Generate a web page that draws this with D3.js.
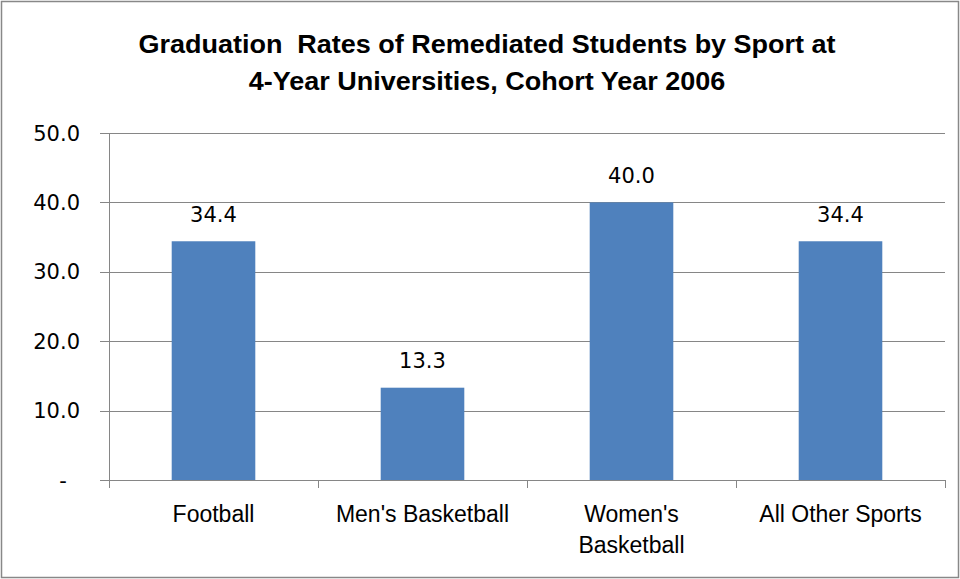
<!DOCTYPE html>
<html><head><meta charset="utf-8">
<script src="https://cdn.jsdelivr.net/npm/d3@7"></script>
<style>body{margin:0;background:#fff}svg{display:block}</style>
</head><body>
<script>
const categories = ["Football", "Men's Basketball", "Women's\nBasketball", "All Other Sports"];
const values = [34.4, 13.3, 40.0, 34.4];
const yTicks = [0, 10, 20, 30, 40, 50];
const titleLines = ["Graduation  Rates of Remediated Students by Sport at", "4-Year Universities, Cohort Year 2006"];

const W = 960, H = 579;
const m = {left: 109, right: 15, top: 133, bottom: 99};
const svg = d3.select("body").append("svg").attr("width", W).attr("height", H);
svg.append("rect").attr("x", 1.5).attr("y", 1.5).attr("width", W - 3).attr("height", H - 3)
  .attr("fill", "#fff").attr("stroke", "#888").attr("stroke-width", 1.5);

const x = d3.scaleBand().domain(categories).range([m.left, W - m.right]).paddingInner(0.6).paddingOuter(0.3);
const y = d3.scaleLinear().domain([0, 50]).range([H - m.bottom, m.top]);

const sansFont = "'Liberation Sans',Arial,sans-serif";
const bodyFont = "'DejaVu Sans',Verdana,sans-serif";

const tcx = 487;
svg.append("g").attr("transform", `translate(${tcx},0) scale(1.08,1)`)
  .selectAll("text").data(titleLines).join("text")
  .attr("x", 0).attr("y", (d, i) => 53 + i * 37)
  .attr("text-anchor", "middle").attr("font-family", sansFont).attr("font-weight", "bold")
  .attr("font-size", 25).attr("fill", "#000").style("white-space", "pre").text(d => d);

// gridlines
svg.append("g").selectAll("line").data(yTicks).join("line")
  .attr("x1", m.left - 9).attr("x2", W - m.right)
  .attr("y1", d => Math.round(y(d)) + 0.5).attr("y2", d => Math.round(y(d)) + 0.5)
  .attr("stroke", "#868686").attr("stroke-width", 1);

// y axis line
svg.append("line").attr("x1", m.left + 0.5).attr("x2", m.left + 0.5)
  .attr("y1", y(50)).attr("y2", y(0) + 8).attr("stroke", "#868686");

// y labels
svg.append("g").selectAll("text").data(yTicks).join("text")
  .attr("x", d => d === 0 ? 63 : 80).attr("y", d => y(d)).attr("dy", "0.36em")
  .attr("text-anchor", d => d === 0 ? "middle" : "end")
  .attr("font-family", bodyFont).attr("font-size", 21).attr("fill", "#000")
  .text(d => d === 0 ? "-" : d3.format(".1f")(d));

// x ticks
const bandEdges = categories.map(c => x(c) - x.step() * x.paddingInner() / 2);
bandEdges.push(W - m.right);
svg.append("g").selectAll("line").data(bandEdges).join("line")
  .attr("x1", d => Math.round(d) + 0.5).attr("x2", d => Math.round(d) + 0.5)
  .attr("y1", y(0)).attr("y2", y(0) + 8).attr("stroke", "#868686");

// bars
svg.append("g").selectAll("rect").data(values).join("rect")
  .attr("x", (d, i) => x(categories[i])).attr("width", x.bandwidth())
  .attr("y", d => y(d)).attr("height", d => y(0) - y(d)).attr("fill", "#4F81BD");

// value labels
svg.append("g").selectAll("text").data(values).join("text")
  .attr("x", (d, i) => x(categories[i]) + x.bandwidth() / 2).attr("y", d => y(d) - 27)
  .attr("dy", "0.36em").attr("text-anchor", "middle")
  .attr("font-family", bodyFont).attr("font-size", 21).attr("fill", "#000")
  .text(d => d3.format(".1f")(d));

// category labels
svg.append("g").selectAll("text").data(categories).join("text")
  .attr("x", d => x(d) + x.bandwidth() / 2).attr("y", 522)
  .attr("text-anchor", "middle").attr("font-family", sansFont).attr("font-size", 23).attr("fill", "#000")
  .each(function(d) {
    const lines = d.split("\n");
    d3.select(this).selectAll("tspan").data(lines).join("tspan")
      .attr("x", x(d) + x.bandwidth() / 2).attr("dy", (l, i) => i === 0 ? 0 : 31).text(l => l);
  });
</script>
</body></html>
